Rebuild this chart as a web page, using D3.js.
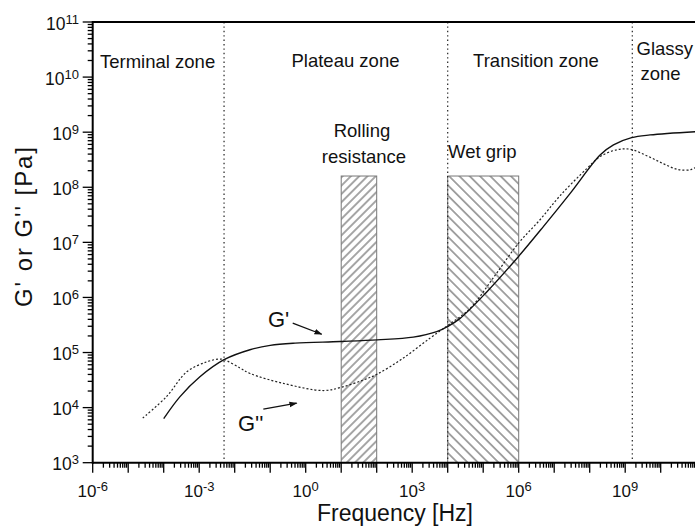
<!DOCTYPE html>
<html><head><meta charset="utf-8">
<script src="https://cdn.jsdelivr.net/npm/d3@7"></script>
<style>
html,body{margin:0;padding:0;background:#fff;}
svg{display:block;font-family:"Liberation Sans",Arial,sans-serif;}
</style></head>
<body>
<svg id="chart" width="695" height="528"></svg>
<script>
// ---- data (exponents of 10) ----
const gPrimeLogF = [-4.0,-3.54,-2.98,-2.3,-1.57,-1.0,-0.3,0.97,2.02,3.03,3.69,4.02,4.35,5.1,5.99,6.7,7.45,8.3,8.67,9.18,9.7,11.0];
const gPrimeLogG = [3.80,4.20,4.56,4.87,5.05,5.13,5.17,5.20,5.23,5.28,5.38,5.48,5.62,6.10,6.74,7.29,7.89,8.59,8.77,8.90,8.95,9.01];
const gDoubleLogF = [-4.59,-3.92,-3.35,-2.79,-2.46,-2.3,-1.85,-1.57,-0.63,0.5,1.01,1.62,2.02,2.75,3.5,4.02,4.63,5.3,5.99,6.6,7.17,7.92,8.3,8.76,9.14,9.65,10.1,10.5,10.85,11.0];
const gDoubleLogG = [3.81,4.20,4.65,4.83,4.88,4.87,4.72,4.62,4.44,4.31,4.37,4.50,4.61,4.90,5.26,5.50,5.80,6.37,6.98,7.41,7.85,8.34,8.56,8.68,8.69,8.56,8.42,8.32,8.32,8.37];
const zoneBoundaries = [Math.pow(10,-2.3), 1e4, Math.pow(10,9.2)];
const zoneLabels = ["Terminal zone","Plateau zone","Transition zone"];
const rollingBox = [1e1, 1e2, 1.6e8];
const wetGripBox = [1e4, 1e6, 1.6e8];
const xTickLabelExps = [-6,-3,0,3,6,9];
const yTickLabelExps = [3,4,5,6,7,8,9,10,11];

const svg = d3.select("#chart");
const x = d3.scaleLog().domain([1e-6,1e11]).range([92.7,696.2]);
const y = d3.scaleLog().domain([1e3,1e11]).range([462.7,22]);
const X0 = 92.7, Y0 = 462.7, YT = 22;
const p10 = e => Math.pow(10,e);

// hatch patterns
const defs = svg.append("defs");
function hatch(id, spacing, angle){
  const p = defs.append("pattern").attr("id",id).attr("patternUnits","userSpaceOnUse")
    .attr("width",spacing).attr("height",spacing).attr("patternTransform",`rotate(${angle})`);
  p.append("line").attr("x1",spacing/2).attr("x2",spacing/2).attr("y1",-1).attr("y2",spacing+1)
    .attr("stroke","#222").attr("stroke-width",0.8);
}
hatch("hRoll", 8.3/Math.SQRT2, 45);
hatch("hWet", 10.3/Math.SQRT2, -45);

// clip
defs.append("clipPath").attr("id","plotclip").append("rect")
  .attr("x",X0).attr("y",YT).attr("width",700).attr("height",Y0-YT);

// boxes
[[rollingBox,"hRoll"],[wetGripBox,"hWet"]].forEach(([b,pid])=>{
  svg.append("rect").attr("x",x(b[0])).attr("y",y(b[2]))
    .attr("width",x(b[1])-x(b[0])).attr("height",Y0-y(b[2]))
    .attr("fill",`url(#${pid})`).attr("stroke","#777").attr("stroke-width",1);
});

// zone lines
zoneBoundaries.forEach(f=>{
  svg.append("line").attr("x1",x(f)).attr("x2",x(f)).attr("y1",YT).attr("y2",Y0)
    .attr("stroke","#222").attr("stroke-width",1.2).attr("stroke-dasharray","1.4,3");
});

// curves
const line = d3.line().x(d=>x(d[0])).y(d=>y(d[1])).curve(d3.curveCatmullRom.alpha(0.5));
const gp = gPrimeLogF.map((f,i)=>[p10(f),p10(gPrimeLogG[i])]);
const gpp = gDoubleLogF.map((f,i)=>[p10(f),p10(gDoubleLogG[i])]);
const cg = svg.append("g").attr("clip-path","url(#plotclip)");
cg.append("path").attr("d",line(gpp)).attr("fill","none").attr("stroke","#222")
  .attr("stroke-width",1.2).attr("stroke-dasharray","2,2");
cg.append("path").attr("d",line(gp)).attr("fill","none").attr("stroke","#111")
  .attr("stroke-width",1.4);

// axes
const ax = svg.append("g");
ax.append("line").attr("x1",X0).attr("x2",695).attr("y1",Y0).attr("y2",Y0).attr("stroke","#000").attr("stroke-width",2);
ax.append("line").attr("x1",X0).attr("x2",695).attr("y1",YT).attr("y2",YT).attr("stroke","#000").attr("stroke-width",2);
ax.append("line").attr("x1",X0).attr("x2",X0).attr("y1",YT-1).attr("y2",Y0+1).attr("stroke","#000").attr("stroke-width",2);
for(let d=-6; d<=11; d++){
  for(let k=1;k<=9;k++){
    const v = k*p10(d);
    if(v>1.0001e11) continue;
    const xx = x(v);
    if(xx>695) continue;
    ax.append("line").attr("x1",xx).attr("x2",xx).attr("y1",Y0).attr("y2",Y0+(k===1?10:5))
      .attr("stroke","#000").attr("stroke-width",1.3);
  }
}
for(let d=3; d<=11; d++){
  for(let k=1;k<=9;k++){
    const v = k*p10(d);
    if(v>1.0001e11) continue;
    const yy = y(v);
    ax.append("line").attr("x1",X0).attr("x2",X0-(k===1?10:5)).attr("y1",yy).attr("y2",yy)
      .attr("stroke","#000").attr("stroke-width",1.3);
  }
}
xTickLabelExps.forEach(e=>{
  const t = ax.append("text").attr("x",x(p10(e))).attr("y",497).attr("text-anchor","middle")
    .attr("font-size",17).attr("fill","#111");
  t.append("tspan").text("10");
  t.append("tspan").attr("dy",-6).attr("font-size",13).text(e);
});
yTickLabelExps.forEach(e=>{
  const t = ax.append("text").attr("x",79).attr("y",y(p10(e))+7.5).attr("text-anchor","end")
    .attr("font-size",17.5).attr("fill","#111");
  t.append("tspan").text("10");
  t.append("tspan").attr("dy",-6).attr("font-size",13).text(e);
});

// axis titles
svg.append("text").attr("x",395).attr("y",521).attr("text-anchor","middle")
  .attr("font-size",23).attr("fill","#111").text("Frequency [Hz]");
svg.append("text").attr("transform","translate(32,227) rotate(-90)").attr("text-anchor","middle")
  .attr("font-size",24).attr("fill","#111").attr("textLength",160).attr("lengthAdjust","spacing")
  .text("G' or G'' [Pa]");

// zone labels
const lab = (tx,ty,s,anchor,fs)=>svg.append("text").attr("x",tx).attr("y",ty)
  .attr("text-anchor",anchor||"start").attr("font-size",fs||18.5).attr("fill","#111").text(s);
lab(100,68.3,zoneLabels[0]);
lab(345.5,67,zoneLabels[1],"middle");
lab(536,67,zoneLabels[2],"middle");
lab(636.5,54.5,"Glassy");
lab(640.5,80,"zone");
lab(362,137.3,"Rolling","middle");
lab(364,163.3,"resistance","middle");
lab(448,158.3,"Wet grip");
lab(268,326.7,"G'","start",22);
lab(238,431,"G''","start",22);

// arrows (data coords)
defs.append("marker").attr("id","arr").attr("viewBox","0 0 10 10").attr("refX",9).attr("refY",5)
  .attr("markerWidth",8).attr("markerHeight",8).attr("markerUnits","userSpaceOnUse").attr("orient","auto")
  .append("path").attr("d","M0,1.5 L10,5 L0,8.5 Z").attr("fill","#111");
const arrows = [[[-0.366,5.532],[0.451,5.332]],[[-1.194,3.971],[-0.254,4.080]]];
arrows.forEach(a=>{
  svg.append("line").attr("x1",x(p10(a[0][0]))).attr("y1",y(p10(a[0][1])))
    .attr("x2",x(p10(a[1][0]))).attr("y2",y(p10(a[1][1])))
    .attr("stroke","#111").attr("stroke-width",1.3).attr("marker-end","url(#arr)");
});
</script>
</body></html>
